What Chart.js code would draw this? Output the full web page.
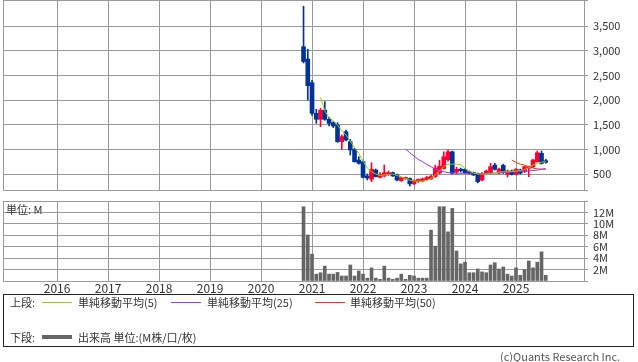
<!DOCTYPE html>
<html><head><meta charset="utf-8">
<script src="https://cdn.jsdelivr.net/npm/chart.js@4/dist/chart.umd.min.js"></script>
<style>
html,body{margin:0;padding:0;background:#fff;width:638px;height:362px;overflow:hidden;font-family:'Noto Sans CJK JP',sans-serif;}
#pw{position:absolute;left:0;top:0;width:638px;height:192px;}
#vw{position:absolute;left:0;top:196px;width:638px;height:104px;}
#unit{position:absolute;left:6px;top:202px;font-size:11px;color:#333;line-height:14px;}
#legend{position:absolute;left:3px;top:294px;width:631px;height:53px;border:1px solid #222;box-sizing:border-box;font-size:11px;color:#333;}
.t{position:absolute;line-height:14px;white-space:nowrap;}
.ln{position:absolute;width:30px;}
#copy{position:absolute;left:500px;top:349px;font-size:11px;color:#555;line-height:14px;white-space:nowrap;}
</style></head>
<body>
<div id="pw"><canvas id="pc"></canvas></div>
<div id="vw"><canvas id="vc"></canvas></div>
<div id="unit">単位: M</div>
<div id="legend">
  <div class="t" style="left:6px;top:0">上段:</div>
  <div class="ln" style="left:38px;top:7px;height:1px;background:#99cc00"></div>
  <div class="t" style="left:74px;top:0">単純移動平均(5)</div>
  <div class="ln" style="left:167px;top:7px;height:1px;background:#9933ff"></div>
  <div class="t" style="left:203px;top:0">単純移動平均(25)</div>
  <div class="ln" style="left:311px;top:7px;height:1px;background:#ff3300"></div>
  <div class="t" style="left:346px;top:0">単純移動平均(50)</div>
  <div class="t" style="left:6px;top:35px">下段:</div>
  <div class="ln" style="left:38px;top:40px;height:4px;background:#666"></div>
  <div class="t" style="left:74px;top:35px">出来高 単位:(M株/口/枚)</div>
</div>
<div id="copy">(c)Quants Research Inc.</div>
<script>
const months = ['2020-11','2020-12',
 '2021-01','2021-02','2021-03','2021-04','2021-05','2021-06','2021-07','2021-08','2021-09','2021-10','2021-11','2021-12',
 '2022-01','2022-02','2022-03','2022-04','2022-05','2022-06','2022-07','2022-08','2022-09','2022-10','2022-11','2022-12',
 '2023-01','2023-02','2023-03','2023-04','2023-05','2023-06','2023-07','2023-08','2023-09','2023-10','2023-11','2023-12',
 '2024-01','2024-02','2024-03','2024-04','2024-05','2024-06','2024-07','2024-08','2024-09','2024-10','2024-11','2024-12',
 '2025-01','2025-02','2025-03','2025-04','2025-05','2025-06','2025-07','2025-08'];
const opens = [3080,2830,2350,1730,1609,1794,1609,1540,1493,1155,
 1357,1155,1000,784,750,460,393,581,432,460,
 493,527,480,365,410,410,300,350,360,390,
 400,450,520,610,790,950,540,600,595,545,
 530,500,378,520,530,682,520,675,493,560,
 493,581,547,615,648,750,919,770];
const highs = [3900,3030,2400,1810,1830,1966,1650,1560,1540,1290,
 1392,1203,1020,851,760,500,729,600,530,682,
 560,540,500,440,440,420,380,400,420,450,
 480,680,780,950,985,966,640,620,610,560,
 540,520,530,580,716,716,620,700,580,580,
 610,600,660,660,800,966,966,800];
const lows = [2750,2000,1690,1527,1459,1590,1473,1440,1140,1000,
 1170,885,740,700,420,380,344,440,420,440,
 470,450,360,350,390,257,290,330,340,380,
 390,430,500,600,760,500,500,540,510,500,
 470,320,360,500,500,580,500,510,440,480,
 480,500,530,446,630,740,700,720];
const closes = [2780,2290,1730,1609,1794,1609,1527,1473,1155,1257,
 1189,987,750,717,432,419,595,446,480,527,
 527,460,378,425,425,300,370,390,400,430,
 450,620,660,850,950,515,595,570,527,514,
 480,344,514,560,648,595,600,530,560,493,
 595,514,648,648,784,932,716,737];
const volumes = [13.0,8.05,4.7,1.2,1.45,2.6,1.2,1.2,1.5,0.87,
 0.87,2.8,0.87,1.75,1.2,0.5,2.3,0.5,0.3,2.6,
 0.5,0.3,0.5,1.2,0.3,1.0,0.87,0.5,0.5,0.5,
 8.9,6.1,13.0,13.0,8.6,12.7,5.25,3.0,3.3,1.45,
 1.45,2.1,1.6,1.45,2.8,3.2,2.1,2.45,1.2,0.87,
 2.3,1.0,2.0,3.5,2.3,3.3,5.1,1.0];
const ma5 = [null,null,null,null,2055,1780,1640,1580,1490,1380,
 1290,1165,1035,915,765,620,545,500,470,480,
 490,500,470,440,410,375,360,355,355,370,
 410,480,560,650,700,700,700,690,610,560,
 520,500,500,500,510,515,540,547,547,550,
 560,570,590,630,680,720,740,750];
const ma25 = [null,null,null,null,null,null,null,null,null,null,
 null,null,null,null,null,null,null,null,null,null,
 null,null,null,null,1007,932,865,798,750,696,
 648,595,567,547,527,520,515,515,515,515,
 510,510,510,515,515,520,525,530,535,540,
 545,550,560,565,570,580,595,612];
const ma50 = [null,null,null,null,null,null,null,null,null,null,
 null,null,null,null,null,null,null,null,null,null,
 null,null,null,null,null,null,null,null,null,null,
 null,null,null,null,null,null,null,null,null,null,
 null,null,null,null,null,null,null,null,null,784,
 735,700,680,650,620,605,600,596];
const yearTicks = [2016,2017,2018,2019,2020,2021,2022,2023,2024,2025];
const priceTicks = [500,1000,1500,2000,2500,3000,3500];
const volumeTicks = [2,4,6,8,10,12];

const XMIN = 2014.94, XMAX = 2026.333;
const PMIN = 176, PMAX = 4027;
const VMIN = 0, VMAX = 14;
const FONT = "'Noto Sans CJK JP', sans-serif";
const GRID = '#999';
const UP = '#ff0033', DOWN = '#003399';

const xs = months.map(s => { const [y, m] = s.split('-').map(Number); return y + (m - 1) / 12; });
const candleColors = closes.map((c, i) => c >= opens[i] ? UP : DOWN);

function noPad(s){ s.paddingTop = 0; s.paddingBottom = 0; s.paddingLeft = 0; s.paddingRight = 0; }

new Chart(document.getElementById('pc'), {
  type: 'bar',
  data: {
    datasets: [
      { type:'line', data: xs.map((x,i)=>({x, y: ma5[i]})), borderColor:'#99cc00', borderWidth:1, pointRadius:0, order:0 },
      { type:'line', data: xs.map((x,i)=>({x, y: ma25[i]})), borderColor:'#9933ff', borderWidth:1, pointRadius:0, order:0 },
      { type:'line', data: xs.map((x,i)=>({x, y: ma50[i]})), borderColor:'#ff3300', borderWidth:1, pointRadius:0, order:0 },
      { data: xs.map((x,i)=>({x, y: [opens[i], closes[i]]})), backgroundColor: candleColors, barThickness:4, minBarLength:1, grouped:false, order:1 },
      { data: xs.map((x,i)=>({x, y: [lows[i], highs[i]]})), backgroundColor: candleColors, barThickness:1, grouped:false, order:2 }
    ]
  },
  options: {
    responsive:true, maintainAspectRatio:false, devicePixelRatio:1, animation:false,
    layout:{ padding:{ left:3, top:0, right:0, bottom:2 } },
    plugins:{ legend:{display:false}, tooltip:{enabled:false} },
    scales:{
      x:{ type:'linear', min:XMIN, max:XMAX, offset:false,
        afterBuildTicks: s => { s.ticks = [XMIN, ...yearTicks].map(v=>({value:v})); },
        ticks:{ display:false },
        grid:{ color:GRID, drawTicks:false, offset:false },
        border:{ display:true, color:GRID },
        afterFit: s => { s.height = 0; noPad(s); } },
      y:{ type:'linear', position:'right', min:PMIN, max:PMAX,
        afterBuildTicks: s => { s.ticks = [PMIN, ...priceTicks, PMAX].map(v=>({value:v})); },
        ticks:{ callback: v => priceTicks.includes(v) ? v.toLocaleString('en-US') : '', color:'#333', font:{size:11, family:FONT}, padding:5, autoSkip:false },
        grid:{ color:GRID, tickLength:4 },
        border:{ display:true, color:GRID },
        afterFit: s => { s.width = 54; noPad(s); } }
    }
  }
});

new Chart(document.getElementById('vc'), {
  type: 'bar',
  data: {
    datasets: [
      { data: xs.map((x,i)=>({x, y: volumes[i]})), backgroundColor:'#666', barThickness:3, grouped:false }
    ]
  },
  options: {
    responsive:true, maintainAspectRatio:false, devicePixelRatio:1, animation:false,
    layout:{ padding:{ left:3, top:5, right:0, bottom:0 } },
    plugins:{ legend:{display:false}, tooltip:{enabled:false} },
    scales:{
      x:{ type:'linear', min:XMIN, max:XMAX, offset:false,
        afterBuildTicks: s => { s.ticks = [XMIN, ...yearTicks].map(v=>({value:v})); },
        ticks:{ callback: v => yearTicks.includes(v) ? String(v) : '', color:'#333', font:{size:12, family:FONT}, padding:0, maxRotation:0, autoSkip:false },
        grid:{ color:GRID, drawTicks:false, offset:false },
        border:{ display:true, color:GRID },
        afterFit: s => { s.height = 19; noPad(s); } },
      y:{ type:'linear', position:'right', min:VMIN, max:VMAX,
        afterBuildTicks: s => { s.ticks = [VMIN, ...volumeTicks, VMAX].map(v=>({value:v})); },
        ticks:{ callback: v => volumeTicks.includes(v) ? v + 'M' : '', color:'#333', font:{size:11, family:FONT, lineHeight:1.0}, padding:5, autoSkip:false },
        grid:{ color:GRID, tickLength:4 },
        border:{ display:true, color:GRID },
        afterFit: s => { s.width = 54; noPad(s); } }
    }
  }
});
</script>
</body></html>
